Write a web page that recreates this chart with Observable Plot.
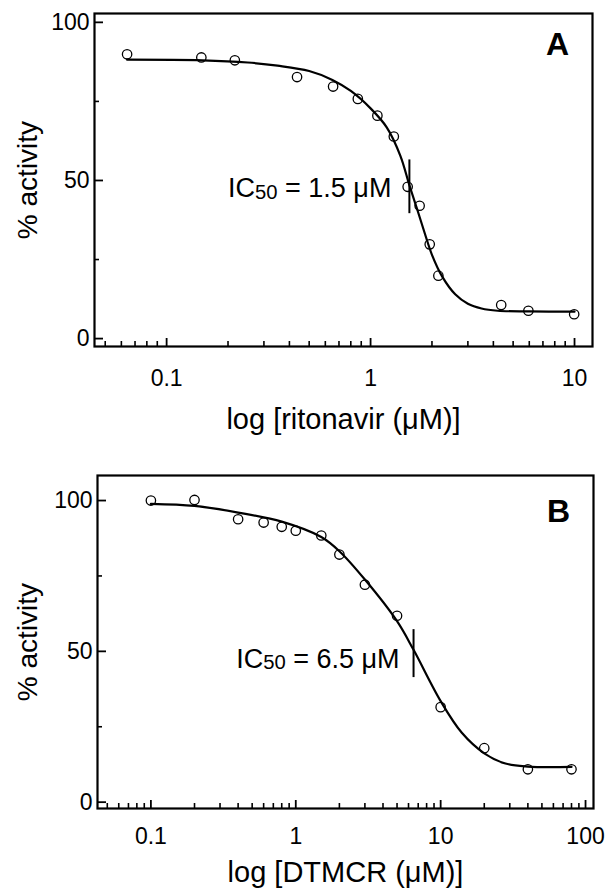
<!DOCTYPE html>
<html>
<head>
<meta charset="utf-8">
<script src="https://cdn.jsdelivr.net/npm/d3@7"></script>
<script src="https://cdn.jsdelivr.net/npm/@observablehq/plot@0.6"></script>
<style>
  html, body { margin: 0; padding: 0; background: #fff; }
  #chart { width: 609px; }
  #chart svg { display: block; }
</style>
</head>
<body>
<div id="chart"></div>
<script>
// ---------- Panel A: ritonavir ----------
const ritonavirConc     = [0.064, 0.148, 0.216, 0.436, 0.655, 0.866, 1.08, 1.30, 1.52, 1.74, 1.95, 2.15, 4.37, 5.94, 9.96];
const ritonavirActivity = [89.9, 88.9, 88.0, 82.7, 79.7, 75.8, 70.5, 63.9, 48.0, 42.0, 29.8, 19.9, 10.6, 8.8, 7.7];
const ritonavirFitConc     = [0.064, 0.15, 0.25, 0.35, 0.5, 0.65, 0.8, 1.0, 1.2, 1.4, 1.55, 1.7, 1.85, 2.0, 2.25, 2.6, 3.0, 3.5, 4.2, 6.0, 10.0];
const ritonavirFitActivity = [88.2, 88.0, 87.3, 86.3, 84.6, 81.8, 78.3, 72.8, 66.8, 57.8, 48.5, 40.5, 33.0, 26.5, 19.5, 14.0, 11.0, 9.5, 8.8, 8.6, 8.5];
const ritonavirIC50 = 1.55;
const ritonavirIC50Bar = [39.5, 56.5];
const ritonavirIC50Label = "IC50 = 1.5 μM";
const ritonavirIC50LabelY = 47.5;

// ---------- Panel B: DTMCR ----------
const dtmcrConc     = [0.1, 0.2, 0.4, 0.6, 0.8, 1.0, 1.5, 2.0, 3.0, 5.0, 10, 20, 40, 80];
const dtmcrActivity = [100, 100.2, 93.8, 92.7, 91.3, 90.0, 88.4, 82.1, 72.1, 61.8, 31.5, 17.9, 10.9, 10.9];
const dtmcrFitConc     = [0.1, 0.2, 0.4, 0.8, 1.5, 2.0, 3.0, 5.0, 6.5, 10, 14, 20, 28, 40, 80];
const dtmcrFitActivity = [98.9, 98.2, 96.0, 93.0, 87.9, 83.2, 73.8, 60.0, 50.5, 33.5, 23.0, 16.2, 12.8, 11.8, 11.7];
const dtmcrIC50 = 6.5;
const dtmcrIC50Bar = [41.3, 57.2];
const dtmcrIC50Label = "IC50 = 6.5 μM";
const dtmcrIC50LabelY = 47.5;

// ---------- Axes ----------
const yMajorTicks = [0, 50, 100];
const yMinorTicks = [25, 75];
const xMajorTicksA = [0.1, 1, 10];
const xMinorTicksA = [0.05, 0.06, 0.07, 0.08, 0.09, 0.2, 0.3, 0.4, 0.5, 0.6, 0.7, 0.8, 0.9, 2, 3, 4, 5, 6, 7, 8, 9];
const xMajorTicksB = [0.1, 1, 10, 100];
const xMinorTicksB = [0.05, 0.06, 0.07, 0.08, 0.09, 0.2, 0.3, 0.4, 0.5, 0.6, 0.7, 0.8, 0.9, 2, 3, 4, 5, 6, 7, 8, 9, 20, 30, 40, 50, 60, 70, 80, 90];
const yTitle = "% activity";
const xTitleA = "log [ritonavir (μM)]";
const xTitleB = "log [DTMCR (μM)]";

const FONT = "'Liberation Sans', Arial, Helvetica, sans-serif";

function panel(o) {
  const pts = o.conc.map((c, i) => ({c, a: o.act[i]}));
  const fit = o.fitConc.map((c, i) => ({c, a: o.fitAct[i]}));
  const fh = o.height - o.marginTop - o.marginBottom;
  const fw = 609 - o.marginLeft - o.marginRight;
  const svg = Plot.plot({
    width: 609,
    height: o.height,
    marginTop: o.marginTop,
    marginBottom: o.marginBottom,
    marginLeft: o.marginLeft,
    marginRight: o.marginRight,
    style: {fontFamily: FONT, color: "#000", background: "#fff", overflow: "visible"},
    x: {type: "log", domain: o.xDomain, label: null},
    y: {domain: o.yDomain, label: null},
    marks: [
      // inward ticks
      Plot.tickX(o.minorX, {x: d => d, insetTop: fh - 5, stroke: "#000", strokeWidth: 1.6}),
      Plot.tickX(o.majorX, {x: d => d, insetTop: fh - 8, stroke: "#000", strokeWidth: 1.8}),
      Plot.tickY(yMinorTicks, {y: d => d, insetRight: fw - 5, stroke: "#000", strokeWidth: 1.6}),
      Plot.tickY(yMajorTicks, {y: d => d, insetRight: fw - 9, stroke: "#000", strokeWidth: 1.8}),
      // tick labels
      Plot.axisX(o.majorX, {tickSize: 0, tickPadding: o.xPad, fontSize: 23, tickFormat: d => String(d), label: null}),
      Plot.axisY(yMajorTicks, {tickSize: 0, tickPadding: 5, fontSize: 23, tickFormat: d => String(d), label: null}),
      Plot.frame({stroke: "#000", strokeWidth: 2.2}),
      Plot.line(fit, {x: "c", y: "a", curve: "catmull-rom", stroke: "#000", strokeWidth: 2.2}),
      Plot.dot(pts, {x: "c", y: "a", r: 4.7, stroke: "#000", strokeWidth: 1.3, fill: "none"}),
      Plot.ruleX([o.ic50], {y1: o.icBar[0], y2: o.icBar[1], stroke: "#000", strokeWidth: 2}),
      Plot.text([o.icLabel], {x: () => o.ic50, y: () => o.icLabelY, dx: o.icDx, textAnchor: "end", lineAnchor: "middle", fontSize: 27, fill: "#000"}),
      Plot.text([o.letter], {frameAnchor: "top-right", textAnchor: "middle", lineAnchor: "middle", dx: -35, dy: o.letterDy, fontSize: 32, fontWeight: "bold", fill: "#000"}),
      Plot.text([o.xTitle], {frameAnchor: "bottom", textAnchor: "middle", lineAnchor: "middle", dy: o.xTitleDy, fontSize: 29, fill: "#000"}),
      Plot.text([yTitle], {frameAnchor: "left", textAnchor: "middle", lineAnchor: "middle", rotate: -90, dx: o.yTitleDx, fontSize: 28, fill: "#000"})
    ]
  });
  // subscript "50" in the IC50 label
  svg.querySelectorAll("text").forEach(t => {
    const s = t.textContent;
    if (s.startsWith("IC50")) {
      const rest = s.slice(4);
      while (t.firstChild) t.removeChild(t.firstChild);
      const ns = "http://www.w3.org/2000/svg";
      t.appendChild(document.createTextNode("IC"));
      const sub = document.createElementNS(ns, "tspan");
      sub.setAttribute("font-size", "0.75em");
      sub.setAttribute("dy", "0.08em");
      sub.textContent = "50";
      t.appendChild(sub);
      const tail = document.createElementNS(ns, "tspan");
      tail.setAttribute("dy", "-0.06em");
      tail.textContent = rest;
      t.appendChild(tail);
    }
  });
  return svg;
}

const chart = document.getElementById("chart");
chart.appendChild(panel({
  conc: ritonavirConc, act: ritonavirActivity,
  fitConc: ritonavirFitConc, fitAct: ritonavirFitActivity,
  xDomain: [0.0443, 12.25], yDomain: [-2.5, 102.8],
  majorX: xMajorTicksA, minorX: xMinorTicksA,
  height: 440, marginTop: 13, marginBottom: 94, marginLeft: 94, marginRight: 17,
  xPad: 23, xTitle: xTitleA, xTitleDy: 73, yTitleDx: -66,
  letter: "A", letterDy: 31,
  ic50: ritonavirIC50, icBar: ritonavirIC50Bar, icLabel: ritonavirIC50Label, icLabelY: ritonavirIC50LabelY, icDx: -18
}));
chart.appendChild(panel({
  conc: dtmcrConc, act: dtmcrActivity,
  fitConc: dtmcrFitConc, fitAct: dtmcrFitActivity,
  xDomain: [0.0428, 113.5], yDomain: [-2.1, 108.3],
  majorX: xMajorTicksB, minorX: xMinorTicksB,
  height: 453, marginTop: 35, marginBottom: 85, marginLeft: 97, marginRight: 16,
  xPad: 19, xTitle: xTitleB, xTitleDy: 64, yTitleDx: -69,
  letter: "B", letterDy: 36,
  ic50: dtmcrIC50, icBar: dtmcrIC50Bar, icLabel: dtmcrIC50Label, icLabelY: dtmcrIC50LabelY, icDx: -14
}));
</script>
</body>
</html>
